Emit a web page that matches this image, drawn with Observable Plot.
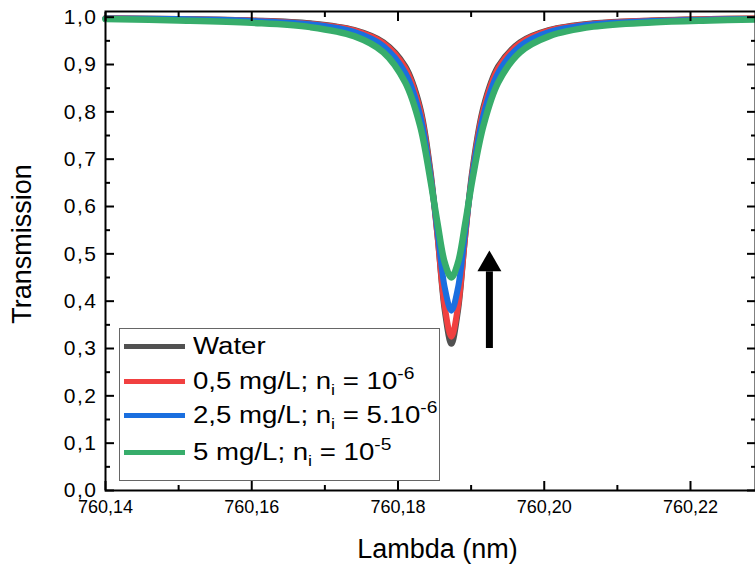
<!DOCTYPE html>
<html>
<head>
<meta charset="utf-8">
<script src="https://cdn.jsdelivr.net/npm/d3@7"></script>
<script src="https://cdn.jsdelivr.net/npm/@observablehq/plot@0.6"></script>
<style>
  html, body { margin: 0; padding: 0; background: #fff; }
  #wrap { position: relative; width: 755px; height: 564px; font-family: Arial, "Liberation Sans", sans-serif; }
  #legend { position: absolute; left: 119px; top: 328px; width: 321px; height: 153px; border: 1px solid #666; background: #fff; box-sizing: border-box; }
  .row { position: absolute; left: 4px; height: 30px; display: flex; align-items: center; font-size: 23px; color: #000; white-space: nowrap; }
  .sw { width: 61px; height: 5px; margin-right: 8px; flex: none; }
  .lab { display: inline-block; transform: scaleX(1.2); transform-origin: 0 50%; }
  sub { font-size: 15px; vertical-align: -6px; line-height: 0; }
  sup { font-size: 16px; vertical-align: 10px; line-height: 0; }
  text.ylab { letter-spacing: 1.5px; }
</style>
</head>
<body>
<div id="wrap"></div>
<script>
// wavelength (nm)
const lambda = [760.140, 760.150, 760.160, 760.168, 760.174, 760.178, 760.181, 760.183, 760.1844, 760.1854, 760.1864, 760.1873, 760.1882, 760.1892, 760.1902, 760.1917, 760.1937, 760.1967, 760.2007, 760.2067, 760.2147, 760.2227, 760.2289];
// transmission values
const water = [0.998, 0.996, 0.993, 0.987, 0.973, 0.947, 0.896, 0.811, 0.680, 0.539, 0.379, 0.310, 0.379, 0.539, 0.680, 0.811, 0.896, 0.947, 0.973, 0.987, 0.993, 0.996, 0.997];
const red   = [0.998, 0.996, 0.993, 0.986, 0.972, 0.945, 0.892, 0.805, 0.674, 0.538, 0.388, 0.325, 0.388, 0.538, 0.674, 0.805, 0.892, 0.945, 0.972, 0.986, 0.993, 0.996, 0.997];
const blue  = [0.997, 0.996, 0.992, 0.985, 0.969, 0.939, 0.882, 0.794, 0.669, 0.549, 0.428, 0.380, 0.428, 0.549, 0.669, 0.794, 0.882, 0.939, 0.969, 0.985, 0.992, 0.995, 0.996];
const green = [0.996, 0.993, 0.988, 0.979, 0.960, 0.926, 0.862, 0.772, 0.659, 0.565, 0.481, 0.450, 0.481, 0.565, 0.659, 0.772, 0.862, 0.926, 0.960, 0.980, 0.989, 0.993, 0.995];

const seriesNames = ["Water", "0,5 mg/L", "2,5 mg/L", "5 mg/L"];
const seriesColors = ["#515151", "#F14040", "#1A6FDF", "#37AD6B"];
const seriesWidths = [6, 6, 6, 6.5];
const seriesValues = [water, red, blue, green];

const xMajor = [760.14, 760.16, 760.18, 760.20, 760.22];
const xMinor = [760.15, 760.17, 760.19, 760.21];
const yMajor = [0.0, 0.1, 0.2, 0.3, 0.4, 0.5, 0.6, 0.7, 0.8, 0.9, 1.0];
const yMinor = [0.05, 0.15, 0.25, 0.35, 0.45, 0.55, 0.65, 0.75, 0.85, 0.95];

const xTitle = "Lambda (nm)";
const yTitle = "Transmission";

const arrowX = 760.1925;
const arrowY = [0.30, 0.462];
const arrowHeadY = 0.478;

const xDomain = [760.14, 760.22889];
const yDomain = [0, 1.012];

const rows = [];
seriesNames.forEach((name, i) => {
  lambda.forEach((l, j) => rows.push({series: name, lambda: l, T: seriesValues[i][j]}));
});

const comma = d => d3.format(".2f")(d).replace(".", ",");
const comma1 = d => d3.format(".1f")(d).replace(".", ",");
const blank = () => "";

const lineMarks = seriesNames.map((name, i) =>
  Plot.line(rows.filter(r => r.series === name), {
    x: "lambda", y: "T", stroke: seriesColors[i], strokeWidth: seriesWidths[i],
    curve: "catmull-rom", strokeLinejoin: "round", strokeLinecap: "round"
  })
);

const chart = Plot.plot({
  width: 755,
  height: 564,
  marginLeft: 105,
  marginRight: 0,
  marginTop: 11,
  marginBottom: 74,
  style: {fontFamily: 'Arial, "Liberation Sans", sans-serif', background: "#fff", color: "#000", overflow: "visible"},
  x: {domain: xDomain, axis: null},
  y: {domain: yDomain, axis: null},
  marks: [
    ...lineMarks,
    Plot.ruleX([arrowX], {y1: arrowY[0], y2: arrowY[1], stroke: "#000", strokeWidth: 7}),
    Plot.dot([arrowX], {x: d => d, y: arrowHeadY, symbol: "triangle", r: 8.9, fill: "#000", stroke: null}),
    // tick labels
    Plot.text(xMajor, {x: d => d, text: comma, frameAnchor: "bottom", dy: 17, lineAnchor: "middle", textAnchor: "middle", fontSize: 18}),
    Plot.text(yMajor, {y: d => d, text: comma1, frameAnchor: "left", dx: -8, lineAnchor: "middle", textAnchor: "end", fontSize: 21}),
    // axis titles
    Plot.text([xTitle], {text: d => d, frameAnchor: "bottom", dy: 59, dx: 7, fontSize: 27, lineAnchor: "middle", textAnchor: "middle"}),
    Plot.text([yTitle], {text: d => d, frameAnchor: "left", dx: -83, dy: -7, rotate: -90, fontSize: 27, lineAnchor: "middle", textAnchor: "middle"}),
    // inward ticks
    Plot.axisX(xMajor, {anchor: "bottom", tickSize: 9, dy: -9, tickFormat: blank, label: null, strokeWidth: 2}),
    Plot.axisX(xMinor, {anchor: "bottom", tickSize: 5, dy: -5, tickFormat: blank, label: null, strokeWidth: 2}),
    Plot.axisX(xMajor, {anchor: "top", tickSize: 9, dy: 9, tickFormat: blank, label: null, strokeWidth: 2}),
    Plot.axisX(xMinor, {anchor: "top", tickSize: 5, dy: 5, tickFormat: blank, label: null, strokeWidth: 2}),
    Plot.axisY(yMajor, {anchor: "left", tickSize: 9, dx: 9, tickFormat: blank, label: null, strokeWidth: 2}),
    Plot.axisY(yMinor, {anchor: "left", tickSize: 5, dx: 5, tickFormat: blank, label: null, strokeWidth: 2}),
    Plot.axisY(yMajor, {anchor: "right", tickSize: 9, dx: -9, tickFormat: blank, label: null, strokeWidth: 2}),
    Plot.axisY(yMinor, {anchor: "right", tickSize: 5, dx: -5, tickFormat: blank, label: null, strokeWidth: 2}),
    Plot.frame({stroke: "#000", strokeWidth: 2})
  ]
});

// widen the y tick labels slightly, as in the reference
const yLabelSet = new Set(yMajor.map(comma1));
chart.querySelectorAll("text").forEach(t => {
  if (yLabelSet.has(t.textContent.trim())) t.classList.add("ylab");
});

const wrap = document.getElementById("wrap");
wrap.appendChild(chart);

// legend
const legendLabels = [
  "Water",
  "0,5 mg/L; n<sub>i</sub> = 10<sup>-6</sup>",
  "2,5 mg/L; n<sub>i</sub> = 5.10<sup>-6</sup>",
  "5 mg/L; n<sub>i</sub> = 10<sup>-5</sup>"
];
const legend = document.createElement("div");
legend.id = "legend";
const rowTops = [2, 37, 71, 108];
legendLabels.forEach((lab, i) => {
  const r = document.createElement("div");
  r.className = "row";
  r.style.top = rowTops[i] + "px";
  r.innerHTML = `<span class="sw" style="background:${seriesColors[i]}"></span><span class="lab">${lab}</span>`;
  legend.appendChild(r);
});
wrap.appendChild(legend);
</script>
</body>
</html>
